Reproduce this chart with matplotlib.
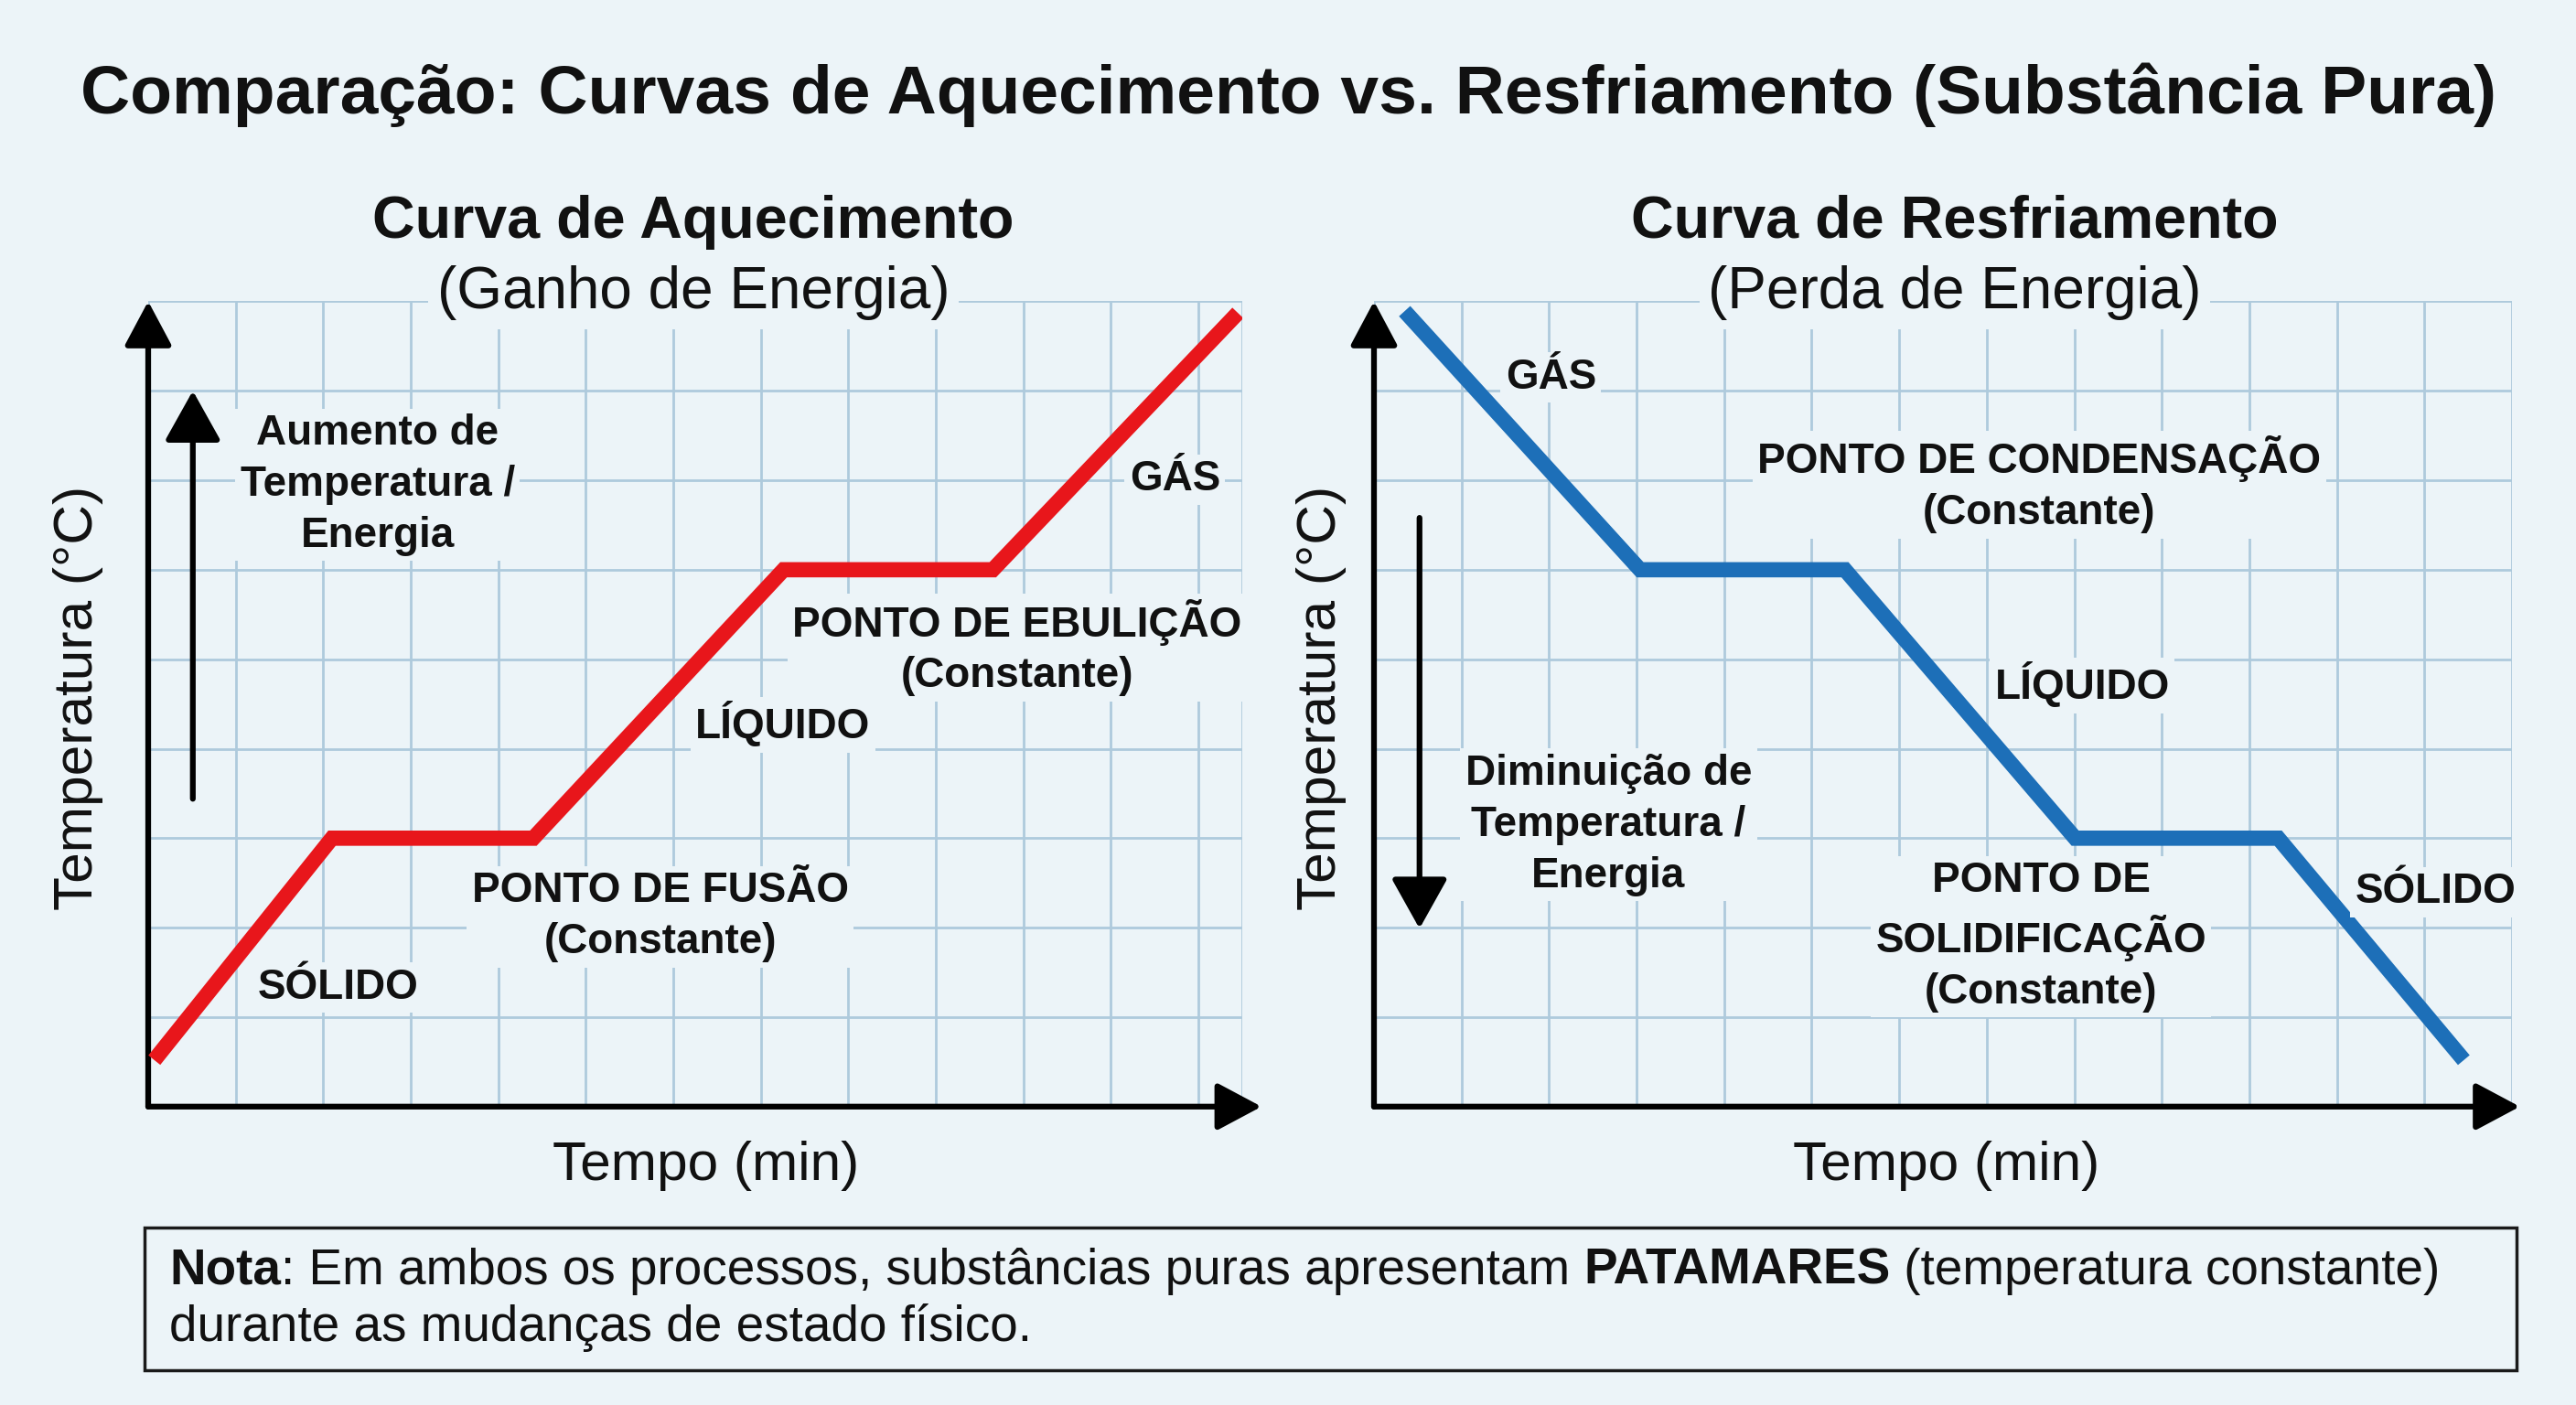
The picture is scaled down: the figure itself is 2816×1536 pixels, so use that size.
import matplotlib
matplotlib.use("Agg")
import matplotlib.pyplot as plt
from matplotlib.patches import Rectangle

# ---------------- data ----------------
heat_time = [0.07, 2.1, 4.4, 7.26, 9.65, 12.45]
heat_temp = [0.52, 3.0, 3.0, 6.0, 6.0, 8.87]
cool_time = [0.35, 3.04, 5.38, 8.01, 10.33, 12.45]
cool_temp = [8.89, 6.0, 6.0, 3.0, 3.0, 0.52]

main_title = "Comparação: Curvas de Aquecimento vs. Resfriamento (Substância Pura)"
heat_title = "Curva de Aquecimento"
heat_sub = "(Ganho de Energia)"
cool_title = "Curva de Resfriamento"
cool_sub = "(Perda de Energia)"
ylabel = "Temperatura (°C)"
xlabel = "Tempo (min)"

heat_labels = ["GÁS", "PONTO DE EBULIÇÃO\n(Constante)", "LÍQUIDO",
               "PONTO DE FUSÃO\n(Constante)", "SÓLIDO",
               "Aumento de\nTemperatura /\nEnergia"]
cool_labels = ["GÁS", "PONTO DE CONDENSAÇÃO\n(Constante)", "LÍQUIDO",
               "Diminuição de\nTemperatura /\nEnergia",
               "PONTO DE\nSOLIDIFICAÇÃO\n(Constante)", "SÓLIDO"]

note_line1 = [("Nota", "bold"), (": Em ambos os processos, substâncias puras apresentam ", "normal"),
              ("PATAMARES", "bold"), (" (temperatura constante)", "normal")]
note_line2 = "durante as mudanças de estado físico."

# ---------------- style ----------------
BG = "#ECF4F8"
GRID = "#AECADC"
RED = "#E8161B"
BLUE = "#1D6FB8"
TXT = "#111111"
FONT = ["Liberation Sans", "DejaVu Sans"]
plt.rcParams["font.family"] = FONT

W, H = 2816, 1536
fig = plt.figure(figsize=(W / 100, H / 100), dpi=100, facecolor=BG)


def fx(px):
    return px / W


def fy(py):
    return 1 - py / H


ax1 = fig.add_axes([fx(162), fy(1209.8), fx(1358 - 162), (1209.8 - 329.4) / H])
ax2 = fig.add_axes([fx(1502), fy(1209.8), fx(2746 - 1502), (1209.8 - 329.4) / H])

for ax, xmax in ((ax1, 12.5), (ax2, 13.0)):
    ax.set_facecolor(BG)
    ax.set_xlim(0, xmax)
    ax.set_ylim(0, 9)
    ax.set_xticks(list(range(0, int(xmax) + 1)) + ([xmax] if xmax % 1 else []))
    ax.set_yticks(range(0, 10))
    ax.grid(True, color=GRID, lw=2.0)
    ax.tick_params(length=0, labelbottom=False, labelleft=False)
    for s in ax.spines.values():
        s.set_visible(False)
    ax.set_axisbelow(True)

# axis arrows
for ax, xtip in ((ax1, 12.72), (ax2, 13.09)):
    ax.annotate("", xy=(xtip, 0), xytext=(0, 0), annotation_clip=False,
                arrowprops=dict(arrowstyle="-|>,head_length=1.5,head_width=0.8",
                                lw=4.5, color="black", mutation_scale=20,
                                shrinkA=0, shrinkB=0))
    ax.annotate("", xy=(0, 9.0), xytext=(0, 0), annotation_clip=False,
                arrowprops=dict(arrowstyle="-|>,head_length=1.5,head_width=0.8",
                                lw=4.5, color="black", mutation_scale=20,
                                shrinkA=0, shrinkB=0))

# curves
ax1.plot(heat_time, heat_temp, color=RED, lw=12, solid_joinstyle="miter",
         solid_capstyle="butt", zorder=5)
ax2.plot(cool_time, cool_temp, color=BLUE, lw=12, solid_joinstyle="miter",
         solid_capstyle="butt", zorder=5)

# inner arrows
ax1.annotate("", xy=(0.51, 8.0), xytext=(0.51, 3.44),
             arrowprops=dict(arrowstyle="-|>,head_length=1.7,head_width=0.95",
                             lw=4.5, color="black", mutation_scale=20,
                             shrinkA=0, shrinkB=0))
ax2.annotate("", xy=(0.52, 1.99), xytext=(0.52, 6.58),
             arrowprops=dict(arrowstyle="-|>,head_length=1.7,head_width=0.95",
                             lw=4.5, color="black", mutation_scale=20,
                             shrinkA=0, shrinkB=0))

lbl_box = dict(boxstyle="square,pad=0.12", fc=BG, ec="none")
heat_pos = [(11.73, 7.01), (9.93, 5.13), (7.25, 4.27), (5.85, 2.12), (2.17, 1.33), (2.62, 6.95)]
cool_pos = [(2.02, 8.15), (7.6, 6.95), (8.09, 4.71), (2.68, 3.15), (7.62, 1.9), (12.13, 2.40)]
for ax, labels, pos in ((ax1, heat_labels, heat_pos), (ax2, cool_labels, cool_pos)):
    for s, (x, y) in zip(labels, pos):
        ax.text(x, y, s, ha="center", va="center", fontsize=33, fontweight="bold",
                color=TXT, linespacing=1.35, bbox=lbl_box, zorder=6)

# titles
fig.text(0.5, fy(104), main_title, ha="center", va="center", fontsize=54,
         fontweight="bold", color=TXT)
for cx, t, sub in ((758, heat_title, heat_sub), (2137, cool_title, cool_sub)):
    fig.text(fx(cx), fy(243), t, ha="center", va="center", fontsize=46.5,
             fontweight="bold", color=TXT)
    fig.text(fx(cx), fy(320), sub, ha="center", va="center", fontsize=46,
             color=TXT, bbox=dict(boxstyle="square,pad=0.15", fc=BG, ec="none"),
             zorder=10)

# axis labels
for cx in (86, 1444):
    fig.text(fx(cx), fy(763), ylabel, ha="center", va="center", rotation=90,
             fontsize=43.5, color=TXT)
for cx in (772, 2128):
    fig.text(fx(cx), fy(1275), xlabel, ha="center", va="center", fontsize=43.5,
             color=TXT)

# note box
fig.patches.append(Rectangle((fx(158), fy(1498)), fx(2751 - 158), (1498 - 1342) / H,
                             transform=fig.transFigure, fc=BG, ec="#1a1a1a", lw=2.5))
renderer = fig.canvas.get_renderer()
x = fx(185)
for s, w in note_line1:
    t = fig.text(x, fy(1390), s, ha="left", va="center", fontsize=39.5,
                 fontweight=w, color=TXT)
    bb = t.get_window_extent(renderer=renderer)
    x += bb.width / W
fig.text(fx(185), fy(1451), note_line2, ha="left", va="center", fontsize=39.5, color=TXT)

fig.savefig("out.png", dpi=100, facecolor=BG)
